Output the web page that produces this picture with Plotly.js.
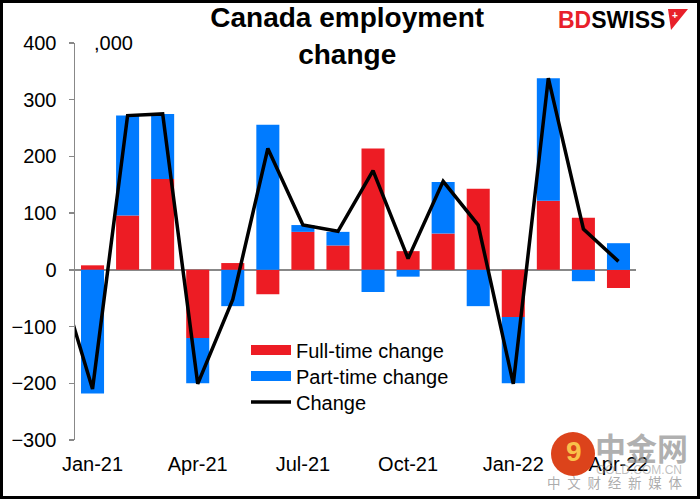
<!DOCTYPE html>
<html><head><meta charset="utf-8">
<script src="https://cdn.plot.ly/plotly-3.0.1.min.js"></script>
<style>
html,body{margin:0;padding:0;background:#fff}
#wrap{position:relative;width:700px;height:499px}
#chart{width:700px;height:499px}
#frame{position:absolute;left:0;top:0;width:700px;height:499px;box-sizing:border-box;border:3px solid #000;pointer-events:none}
</style>
</head><body>
<div id="wrap"><div id="chart"></div><div id="frame"></div></div>
<script>
// ---- data (thousands) ----
const months = ['Dec-20','Jan-21','Feb-21','Mar-21','Apr-21','May-21','Jun-21','Jul-21','Aug-21','Sep-21','Oct-21','Nov-21','Dec-21','Jan-22','Feb-22','Mar-22','Apr-22'];
const fullTime = [null, 8, 96, 160, -120, 12, -43, 67, 43, 214, 33, 64, 143, -83, 122, 92, -32];
const partTime = [null, -218, 176, 115, -80, -64, 256, 12, 24, -39, -12, 91, -64, -117, 216, -20, 47];
const totalChange = [-3, -210, 272, 275, -201, -52, 214, 79, 68, 175, 20, 156, 79, -201, 338, 72, 15];
const tickLabels = ['Jan-21','Apr-21','Jul-21','Oct-21','Jan-22','Apr-22'];
const quarterBoundaries = [3.5, 6.5, 9.5, 12.5, 15.5];

const RED = '#ED1C24', BLUE = '#007BFF', GRAY = '#888888';
const FONT = 'Liberation Sans, Arial, sans-serif';

// pixel -> paper helpers for decorations (plot area 75..636 x 43..440)
const PL = 75, PR = 636, PT = 43, PB = 440;
const X = px => (px - PL) / (PR - PL);
const Y = py => (PB - py) / (PB - PT);

const data = [
  {type:'bar', name:'Full-time change', x:months, y:fullTime, marker:{color:RED}, showlegend:false, hoverinfo:'skip'},
  {type:'bar', name:'Part-time change', x:months, y:partTime, marker:{color:BLUE}, showlegend:false, hoverinfo:'skip'},
  {type:'scatter', mode:'lines', name:'Full-time change', x:[null], y:[null], line:{color:RED, width:10}, legend:'legend'},
  {type:'scatter', mode:'lines', name:'Part-time change', x:[null], y:[null], line:{color:BLUE, width:10}, legend:'legend2'},
  {type:'scatter', mode:'lines', name:'Change', x:months, y:totalChange, line:{color:'#000', width:3.5}, legend:'legend3'}
];

const legendBase = (py) => ({x:X(246), y:Y(py), xanchor:'left', yanchor:'middle', bgcolor:'rgba(0,0,0,0)',
  font:{family:FONT, size:20}, itemwidth:40, borderwidth:0});

const layout = {
  width:700, height:499,
  margin:{l:PL, r:700-PR, t:PT, b:499-PB, pad:0},
  paper_bgcolor:'#fff', plot_bgcolor:'#fff',
  barmode:'relative', bargap:0.343,
  font:{family:FONT, size:20, color:'#000'},
  title:{text:'<b>Canada employment<br>change</b>', font:{family:FONT, size:28, color:'#000'},
         xref:'container', x:0.496, xanchor:'center', yref:'container', y:0.945, yanchor:'top'},
  xaxis:{type:'category', categoryorder:'array', categoryarray:months, range:[0.5, 16.5],
         tickvals:tickLabels, ticktext:tickLabels, ticks:'', showline:false, showgrid:false, zeroline:false,
         tickfont:{family:FONT, size:20}, ticklabelstandoff:10, fixedrange:true},
  xaxis2:{overlaying:'x', anchor:'free', position:3/7, type:'linear', range:[0.5, 16.5],
          tickvals:quarterBoundaries, ticks:'outside', ticklen:5, tickwidth:1.5, tickcolor:GRAY,
          showticklabels:false, showline:false, showgrid:false, zeroline:false},
  yaxis:{range:[-300, 400], tick0:0, dtick:100, ticks:'outside', ticklen:5, tickwidth:1.5, tickcolor:GRAY,
         showline:true, linecolor:GRAY, linewidth:1.5, showgrid:false,
         zeroline:true, zerolinecolor:GRAY, zerolinewidth:1.5,
         tickfont:{family:FONT, size:20}, ticklabelstandoff:8},
  legend:legendBase(350),
  legend2:legendBase(376),
  legend3:legendBase(402),
  showlegend:true,
  annotations:[
    {xref:'paper', yref:'paper', x:X(92), y:Y(43), xanchor:'left', yanchor:'middle', showarrow:false,
     text:',000', font:{family:FONT, size:20}},
    {xref:'paper', yref:'paper', x:X(667), y:Y(20), xanchor:'right', yanchor:'middle', showarrow:false,
     text:'<b><span style="color:#E8202A">BD</span>SWISS</b>', font:{family:FONT, size:23, color:'#000'}},
    {xref:'paper', yref:'paper', x:X(675), y:Y(15), xanchor:'center', yanchor:'middle', showarrow:false,
     text:'<b>+</b>', font:{family:FONT, size:10, color:'#fff'}},
    {xref:'paper', yref:'paper', x:X(574), y:Y(451), xanchor:'center', yanchor:'middle', showarrow:false,
     text:'<b>9</b>', font:{family:FONT, size:28, color:'#F9C04A'}},
    {xref:'paper', yref:'paper', x:X(641), y:Y(446), xanchor:'center', yanchor:'middle', showarrow:false,
     text:'<b>中金网</b>', font:{family:'Noto Sans CJK SC', size:31, color:'rgba(150,150,150,0.75)'}},
    {xref:'paper', yref:'paper', x:X(684), y:Y(470), xanchor:'right', yanchor:'middle', showarrow:false,
     text:'GOLD.COM.CN', font:{family:FONT, size:12, color:'rgba(150,150,150,0.6)'}},
    {xref:'paper', yref:'paper', x:X(615), y:Y(482), xanchor:'center', yanchor:'middle', showarrow:false,
     text:'中\u2002文\u2002财\u2002经\u2002新\u2002媒\u2002体', font:{family:'Noto Sans CJK SC', size:13.5, color:'rgba(150,150,150,0.8)'}}
  ],
  shapes:[
    {type:'path', xref:'paper', yref:'paper', layer:'above',
     path:`M${X(668)},${Y(9)} L${X(688)},${Y(9)} L${X(671)},${Y(30)} Z`, fillcolor:'#E8202A', line:{width:0}},
    {type:'circle', xref:'paper', yref:'paper', layer:'above',
     x0:X(551), x1:X(595), y0:Y(476), y1:Y(432), fillcolor:'#DC431B', line:{width:0}}
  ]
};

Plotly.newPlot('chart', data, layout, {displayModeBar:false, staticPlot:true});
</script>
</body></html>
